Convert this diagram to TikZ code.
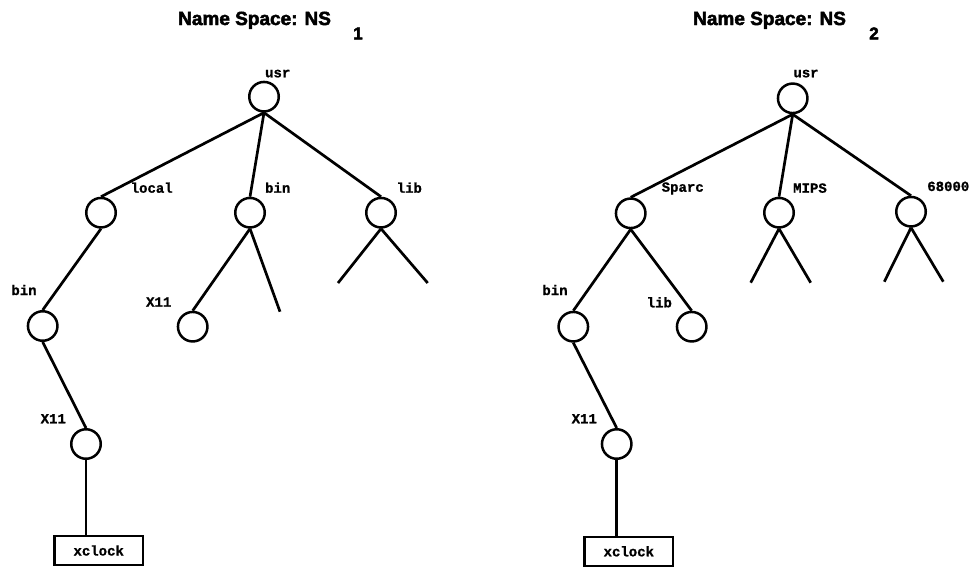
\documentclass[tikz,border=0pt]{standalone}
\usepackage{fontspec}
\setmainfont{Liberation Sans}
\newfontfamily\titlef[FakeBold=2.5]{Liberation Sans Bold}
\newfontfamily\labf[FakeBold=1]{Liberation Mono Bold}
\begin{document}
\begin{tikzpicture}[x=1pt,y=-1pt,
  dir/.style={circle, draw, line width=2.5pt, minimum size=29.5pt, inner sep=0pt},
  filebox/.style={draw, line width=2.2pt, minimum width=88.5pt, minimum height=28.8pt, inner sep=0pt, font=\labf\fontsize{14}{14}\selectfont},
  lab/.style={anchor=base, inner sep=0pt, font=\labf\fontsize{14}{14}\selectfont},
  edge/.style={line width=2.7pt},
  ttl/.style={anchor=base west, inner sep=0pt, font=\titlef\fontsize{19}{19}\selectfont},
  sub/.style={anchor=base, inner sep=0pt, font=\titlef\fontsize{17}{17}\selectfont}]
\path[use as bounding box] (0,0) rectangle (976,571);

% ---------- titles ----------
\node[ttl] (t1) at (178,25) {Name Space: NS};
\node[sub] (t1s) at (358,39.3) {1};
\node[ttl] (t2) at (693,25) {Name Space: NS};
\node[sub] (t2s) at (874,39.3) {2};

% ---------- left tree ----------
\node[dir] (lusr) at (264,96.7) {};
\node[dir] (llocal) at (101,212.7) {};
\node[dir] (lbin) at (250,212.7) {};
\node[dir] (llib) at (381,212.7) {};
\node[dir] (lbin2) at (42.7,326) {};
\node[dir] (lx11a) at (192.7,326.7) {};
\node[dir] (lx11b) at (86,444) {};
\node[filebox] (lxclock) at (98.7,550.5) {xclock};
\coordinate (lbinR) at (280,311.7);
\coordinate (llibL) at (338,283);
\coordinate (llibR) at (427.7,283);

\draw[edge] (lusr.south) -- (llocal.north);
\draw[edge] (lusr.south) -- (lbin.north);
\draw[edge] (lusr.south) -- (llib.north);
\draw[edge] (llocal.south) -- (lbin2.north);
\draw[edge] (lbin2.south) -- (lx11b.north);
\draw[edge] (lx11b.south) -- (lx11b.south |- lxclock.north);
\draw[edge] (lbin.south) -- (lx11a.north);
\draw[edge] (lbin.south) -- (lbinR);
\draw[edge] (llib.south) -- (llibL);
\draw[edge] (llib.south) -- (llibR);

\node[lab] (lusrl) at (277.7,77.3) {usr};
\node[lab] (llocall) at (151.7,192.7) {local};
\node[lab] (lbinl) at (277.7,192.7) {bin};
\node[lab] (llibl) at (409.3,192.7) {lib};
\node[lab] (lbin2l) at (24,295) {bin};
\node[lab] (lx11al) at (158.7,306.7) {X11};
\node[lab] (lx11bl) at (53.3,423.3) {X11};

% ---------- right tree ----------
\node[dir] (rusr) at (792.7,98.3) {};
\node[dir] (rsparc) at (630.7,213.3) {};
\node[dir] (rmips) at (779,212.7) {};
\node[dir] (rm68) at (911,211.7) {};
\node[dir] (rbin) at (573.3,326.7) {};
\node[dir] (rlib) at (691.7,326.7) {};
\node[dir] (rx11) at (616.7,444) {};
\node[filebox] (rxclock) at (628.8,551.3) {xclock};
\coordinate (rmipsL) at (750.7,282.7);
\coordinate (rmipsR) at (810.7,282.7);
\coordinate (rm68L) at (884.3,281.7);
\coordinate (rm68R) at (943.3,281.7);

\draw[edge] (rusr.south) -- (rsparc.north);
\draw[edge] (rusr.south) -- (rmips.north);
\draw[edge] (rusr.south) -- (rm68.north);
\draw[edge] (rsparc.south) -- (rbin.north);
\draw[edge] (rsparc.south) -- (rlib.north);
\draw[edge] (rbin.south) -- (rx11.north);
\draw[edge] (rx11.south) -- (rx11.south |- rxclock.north);
\draw[edge] (rmips.south) -- (rmipsL);
\draw[edge] (rmips.south) -- (rmipsR);
\draw[edge] (rm68.south) -- (rm68L);
\draw[edge] (rm68.south) -- (rm68R);

\node[lab] (rusrl) at (806,77.3) {usr};
\node[lab] (rsparcl) at (682.7,191.7) {Sparc};
\node[lab] (rmipsl) at (810,192.7) {MIPS};
\node[lab] (rm68l) at (948.3,191) {68000};
\node[lab] (rbinl) at (555,295) {bin};
\node[lab] (rlibl) at (659.3,307.3) {lib};
\node[lab] (rx11l) at (584.3,423.3) {X11};
\end{tikzpicture}
\end{document}
